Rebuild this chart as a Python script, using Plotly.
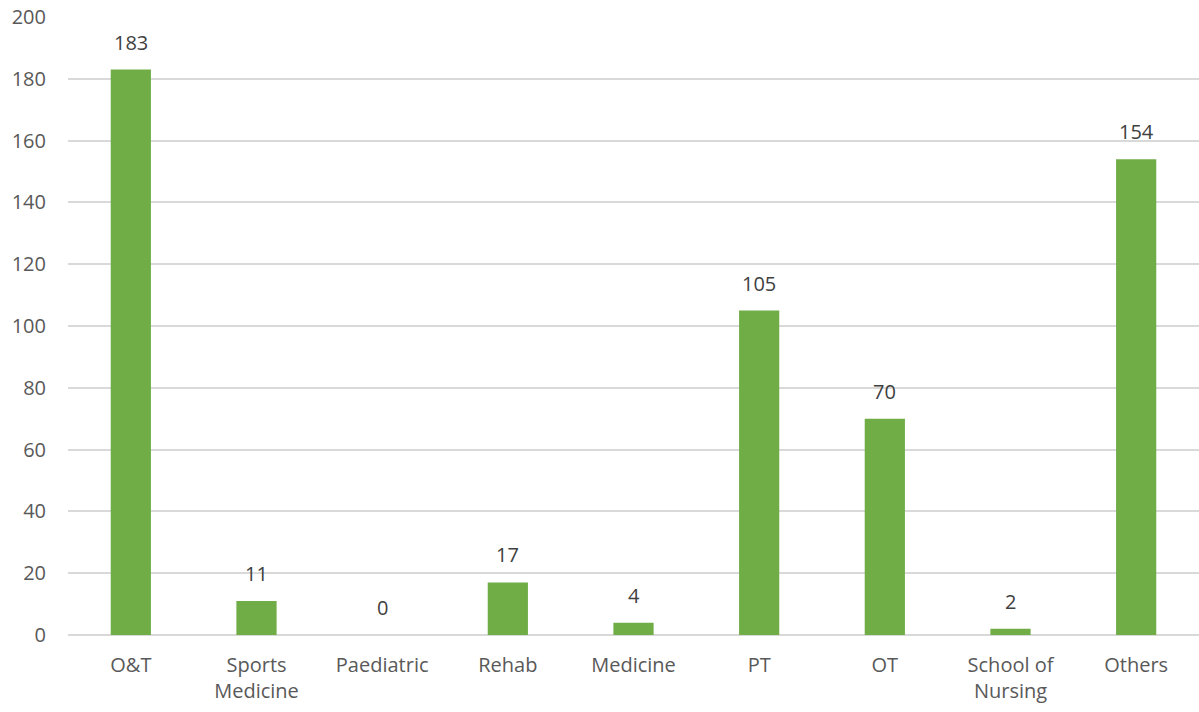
import plotly.graph_objects as go

categories = ["O&T", "Sports<br>Medicine", "Paediatric", "Rehab", "Medicine", "PT", "OT", "School of<br>Nursing", "Others"]
values = [183, 11, 0, 17, 4, 105, 70, 2, 154]
y_ticks = [0, 20, 40, 60, 80, 100, 120, 140, 160, 180, 200]

font_family = "Open Sans, Liberation Sans, sans-serif"
text_color = "#595959"

fig = go.Figure(go.Bar(x=categories, y=values, marker=dict(color="#70AD47", line=dict(width=0)),
                       hoverinfo="skip"))

for c, v in zip(categories, values):
    fig.add_annotation(x=c, y=v, text=str(v), showarrow=False, yanchor="bottom", yshift=12,
                       font=dict(family=font_family, size=20, color="#404040"))

fig.update_layout(
    width=1199, height=712,
    margin=dict(l=68, r=0, t=17, b=77),
    plot_bgcolor="white", paper_bgcolor="white",
    bargap=0.68,
    showlegend=False,
    font=dict(family=font_family, size=20, color=text_color),
)
fig.update_yaxes(range=[0, 200], tickvals=y_ticks, showgrid=True, gridcolor="#D9D9D9", gridwidth=1.5,
                 zeroline=True, zerolinecolor="#D9D9D9", zerolinewidth=1.5, showline=False,
                 ticklabelstandoff=21, automargin=False,
                 tickfont=dict(size=20, color=text_color))
fig.update_xaxes(showline=False, ticklabelstandoff=16, automargin=False,
                 tickfont=dict(size=20, color=text_color))

fig.write_html("out.html", config={"displayModeBar": False},
               post_script="document.body.style.margin='0';document.body.style.overflow='hidden';")
